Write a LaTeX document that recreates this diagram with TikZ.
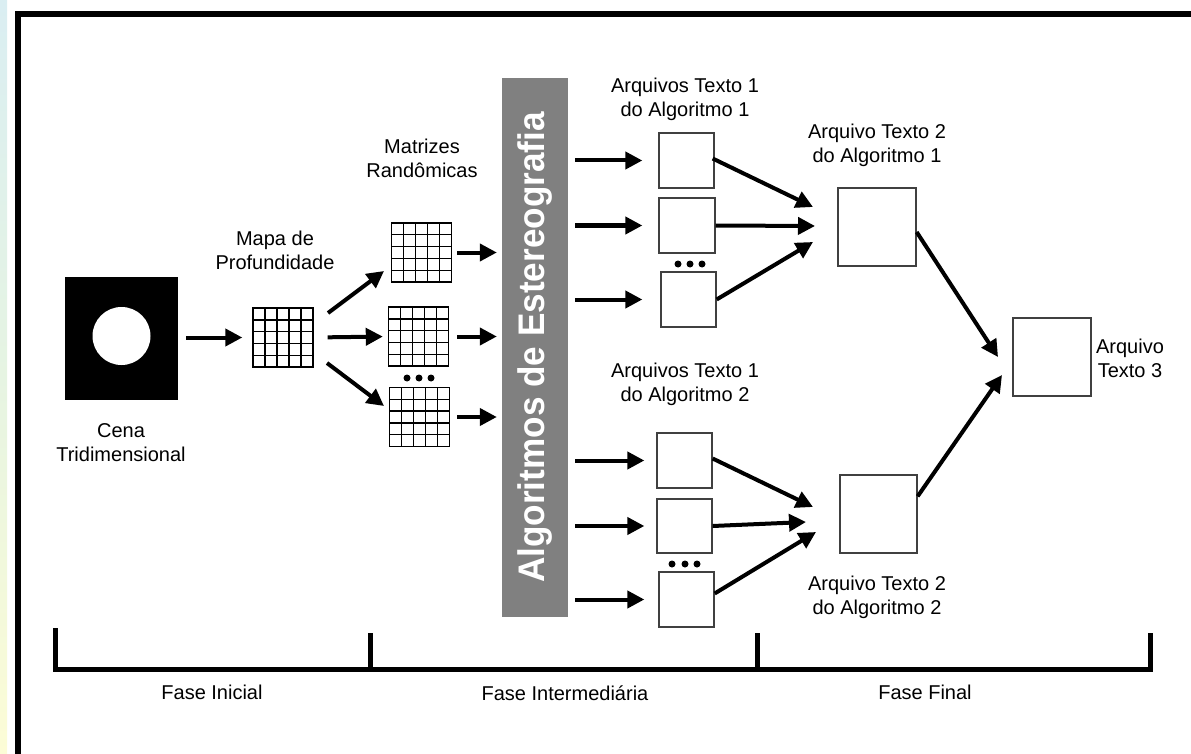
\documentclass[tikz,border=0pt]{standalone}
\usepackage{fontspec}
\setmainfont{Liberation Sans}
\usetikzlibrary{arrows.meta,calc}
\definecolor{barGray}{RGB}{128,128,128}
\definecolor{stripTop}{RGB}{218,238,242}
\definecolor{stripMid}{RGB}{230,244,226}
\definecolor{stripBot}{RGB}{252,252,214}
\begin{document}
\begin{tikzpicture}[x=1pt,y=-1pt,
  arr/.style={line width=4pt,-{Triangle[length=17pt,width=17pt]}},
  lbl/.style={font=\fontsize{20}{24}\selectfont, align=center, inner sep=0pt},
  fbox/.style={draw=black!75, line width=1.3pt, fill=white, inner sep=0pt},
  mgrid/.style={draw=black, line width=1.4pt, fill=white, inner sep=0pt, minimum width=60pt, minimum height=59pt,
    path picture={\foreach \k in {0.2,0.4,0.6,0.8}{
      \draw[line width=1.4pt] ($(path picture bounding box.north west)!\k!(path picture bounding box.north east)$) -- ($(path picture bounding box.south west)!\k!(path picture bounding box.south east)$);
      \draw[line width=1.4pt] ($(path picture bounding box.north west)!\k!(path picture bounding box.south west)$) -- ($(path picture bounding box.north east)!\k!(path picture bounding box.south east)$);}}},
  dot/.style={circle, fill=black, inner sep=0pt, minimum size=7pt},
  bracket/.style={line width=5pt}
]
\useasboundingbox (0,0) rectangle (1191,754);
% left strip and frame
\shade[top color=stripTop, bottom color=stripBot, middle color=stripMid] (0,0) rectangle (7,754);
\draw[line width=6pt] (18,760) -- (18,14) -- (1200,14);

% Cena
\node[fill=black, minimum width=113pt, minimum height=123pt, inner sep=0pt] (cena) at (121.5,338.5) {};
\node[circle, fill=white, minimum size=58pt, inner sep=0pt] (circ) at (121.5,336) {};
\node[lbl] (cenaL) at (121,443) {Cena\\Tridimensional};

% Mapa
\node[mgrid] (mapa) at (283,337.5) {};
\node[lbl] (mapaL) at (275,250) {Mapa de\\Profundidade};

% Matrizes
\node[mgrid] (g1) at (421.5,252.5) {};
\node[mgrid] (g2) at (418.5,336.5) {};
\node[mgrid] (g3) at (419.5,417) {};
\node[dot] (gd1) at (407,378) {};
\node[dot] (gd2) at (419,378) {};
\node[dot] (gd3) at (431,378) {};
\node[lbl] (matL) at (422,158) {Matrizes\\Randômicas};

% bar
\node[fill=barGray, minimum width=539pt, minimum height=66pt, inner sep=0pt, rotate=90,
      text=white, font=\bfseries\fontsize{37}{42}\selectfont] (bar) at (535,347.5) {\scalebox{0.95}[1]{Algoritmos de Estereografia}};

% top boxes
\node[fbox, minimum width=55pt, minimum height=55pt] (t1) at (686.5,160.5) {};
\node[fbox, minimum width=56pt, minimum height=55pt] (t2) at (687,225.5) {};
\node[fbox, minimum width=55pt, minimum height=55pt] (t3) at (688.5,299.5) {};
\node[dot] (td1) at (678,264) {};
\node[dot] (td2) at (690,264) {};
\node[dot] (td3) at (702,264) {};
\node[lbl] (t1L) at (685,99) {Arquivos Texto 1\\do Algoritmo 1};
\node[fbox, minimum width=78pt, minimum height=78pt] (B1) at (877,227) {};
\node[lbl] (B1L) at (877,145) {Arquivo Texto 2\\do Algoritmo 1};

% bottom boxes
\node[fbox, minimum width=55pt, minimum height=55pt] (u1) at (684.5,460.5) {};
\node[fbox, minimum width=55pt, minimum height=54pt] (u2) at (684.5,526) {};
\node[fbox, minimum width=55pt, minimum height=55pt] (u3) at (686.5,599.5) {};
\node[dot] (ud1) at (672,564) {};
\node[dot] (ud2) at (685,564) {};
\node[dot] (ud3) at (697,564) {};
\node[lbl] (u1L) at (685,384) {Arquivos Texto 1\\do Algoritmo 2};
\node[fbox, minimum width=77pt, minimum height=78pt] (B2) at (878.5,514) {};
\node[lbl] (B2L) at (877,597) {Arquivo Texto 2\\do Algoritmo 2};

% final
\node[fbox, minimum width=78pt, minimum height=78pt] (F) at (1052,357) {};
\node[lbl] (FL) at (1130,358) {Arquivo\\Texto 3};

% tips
\coordinate (m1s) at (328,313);
\coordinate (m1e) at (384,271);
\coordinate (m3s) at (327,363);
\coordinate (m3e) at (384,406);
\coordinate (a1) at (813,207);
\coordinate (a2) at (815,226);
\coordinate (a3) at (813,242);
\coordinate (c1) at (813,507);
\coordinate (c2) at (806,522);
\coordinate (c3) at (816,532);
\coordinate (f1) at (998,357);
\coordinate (f2) at (1002,375);

% arrows
\draw[arr, shorten <=8pt, shorten >=10pt] (cena.east |- mapa.west) -- (mapa.west);
\draw[arr] (m1s) -- (m1e);
\draw[arr, shorten <=14pt, shorten >=5pt] (mapa.east) -- (g2.west);
\draw[arr] (m3s) -- (m3e);

\draw[arr, shorten <=5pt, shorten >=5pt] (g1.east) -- (bar.north |- g1.east);
\draw[arr, shorten <=8pt, shorten >=5pt] (g2.east) -- (bar.north |- g2.east);
\draw[arr, shorten <=7pt, shorten >=5pt] (g3.east) -- (bar.north |- g3.east);

\draw[arr, shorten <=7pt, shorten >=16pt] (bar.south |- t1.west) -- (t1.west);
\draw[arr, shorten <=7pt, shorten >=16pt] (bar.south |- t2.west) -- (t2.west);
\draw[arr, shorten <=7pt, shorten >=18pt] (bar.south |- t3.west) -- (t3.west);
\draw[arr, shorten <=7pt, shorten >=12pt] (bar.south |- u1.west) -- (u1.west);
\draw[arr, shorten <=7pt, shorten >=12pt] (bar.south |- u2.west) -- (u2.west);
\draw[arr, shorten <=7pt, shorten >=14pt] (bar.south |- u3.west) -- (u3.west);

\draw[arr] ($(t1.east)+(-2,-2)$) -- (a1);
\draw[arr] (t2.east) -- (a2);
\draw[arr] (t3.east) -- (a3);
\draw[arr] ($(u1.east)+(0,-2)$) -- (c1);
\draw[arr] (u2.east) -- (c2);
\draw[arr] ($(u3.east)+(0,-6)$) -- (c3);

\draw[arr] ($(B1.east)+(0,5)$) -- (f1);
\draw[arr] ($(B2.north east)+(0,22)$) -- (f2);

% bracket
\draw[bracket] (55,628) -- (55,669) -- (1150,669) -- (1150,633);
\draw[bracket] (370,633) -- (370,669);
\draw[bracket] (757,633) -- (757,669);
\node[lbl] (ph1) at (212,692) {Fase Inicial};
\node[lbl] (ph2) at (565,693) {Fase Intermediária};
\node[lbl] (ph3) at (925,692) {Fase Final};
\end{tikzpicture}
\end{document}
